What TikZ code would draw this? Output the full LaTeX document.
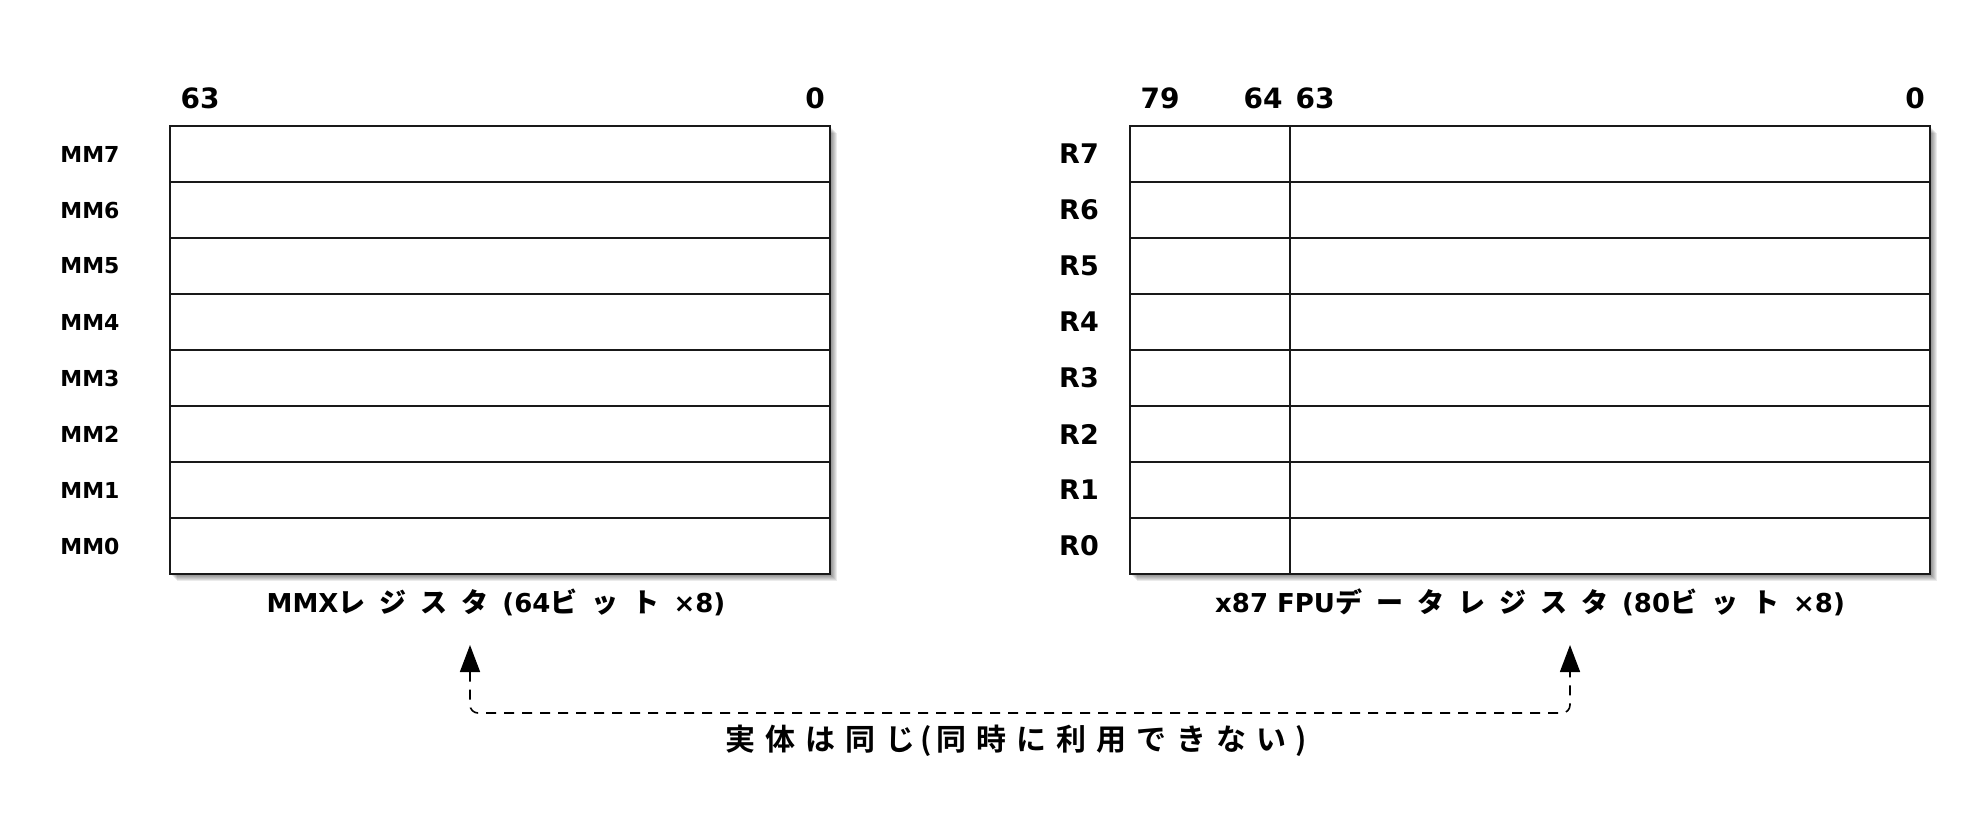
\documentclass[tikz,border=0pt]{standalone}
\usepackage{fontspec}
\setmainfont{DejaVu Sans}
\newfontfamily\jp{Noto Sans CJK JP Bold}
\usetikzlibrary{arrows.meta}
\newlength\kw \setlength\kw{41pt}
\newcommand\kk[1]{\makebox[\kw][l]{\jp\fontsize{27}{30}\selectfont #1}}
\newcommand\bj[2][40pt]{\makebox[#1][c]{#2}}
\begin{document}
\begin{tikzpicture}[x=1pt,y=-1pt,
  reg/.style={draw=black!90, line width=1.9pt, fill=white, minimum height=56pt, inner sep=0pt, outer sep=0pt, anchor=north west},
  num/.style={font=\bfseries\fontsize{28}{32}\selectfont, inner sep=0pt},
  mmlab/.style={font=\bfseries\fontsize{22}{25}\selectfont, inner sep=0pt},
  rlab/.style={font=\bfseries\fontsize{27}{30}\selectfont, inner sep=0pt},
  captext/.style={font=\bfseries\fontsize{26}{30}\selectfont, inner sep=0pt},
  notetext/.style={font=\jp\fontsize{30}{34}\selectfont, inner sep=0pt},
  link/.style={draw=black, line width=1.6pt, dash pattern=on 10pt off 8pt, rounded corners=8pt, {Triangle[length=27pt,width=20pt]}-{Triangle[length=27pt,width=20pt]}},
  shadowlayer/.style={fill=black, fill opacity=0.08, draw=none}
]
\useasboundingbox[fill=white] (0,0) rectangle (1980,812);
% shadows
\foreach \k in {1,...,7} {
  \path[shadowlayer] (170+\k,126+\k) rectangle (830+\k,574+\k);
  \path[shadowlayer] (1130+\k,126+\k) rectangle (1930+\k,574+\k);
}
% registers
\foreach \i in {7,...,0} {
  \pgfmathsetmacro\yy{126+(7-\i)*56}
  \node[reg, minimum width=660pt] (mm\i) at (170,\yy) {};
  \node[reg, minimum width=160pt] (rh\i) at (1130,\yy) {};
  \node[reg, minimum width=640pt] (rl\i) at (1290,\yy) {};
  \node[mmlab] (mmlab\i) at (90,\yy+28) {MM\i};
  \node[rlab] (rlab\i) at (1079,\yy+28) {R\i};
}
% bit numbers
\node[num] (b63a) at (200,98) {63};
\node[num] (b0a) at (815,98) {0};
\node[num] (b79) at (1160,98) {79};
\node[num] (b64) at (1263,98) {64};
\node[num] (b63b) at (1315,98) {63};
\node[num] (b0b) at (1915,98) {0};
% captions
\node[captext] (capL) at (496,602) {MMX\kk{レ}\kk{ジ}\kk{ス}\kk{タ}(64\kk{ビ}\kk{ッ}\kk{ト}×8)};
\node[captext] (capR) at (1530,602) {x87 FPU\kk{デ}\kk{ー}\kk{タ}\kk{レ}\kk{ジ}\kk{ス}\kk{タ}(80\kk{ビ}\kk{ッ}\kk{ト}×8)};
% note
\node[notetext, anchor=west] (note) at (720,741) {\bj{実}\bj{体}\bj{は}\bj{同}\bj{じ}\bj[11pt]{(}\bj{同}\bj{時}\bj{に}\bj{利}\bj{用}\bj{で}\bj{き}\bj{な}\bj{い}\bj[20pt]{)}};
% link
\coordinate (tipL) at (470,645);
\coordinate (tipR) at (1570,645);
\draw[link] (tipL) -- (tipL |- 0,713) -- (tipR |- 0,713) -- (tipR);
\end{tikzpicture}
\end{document}
